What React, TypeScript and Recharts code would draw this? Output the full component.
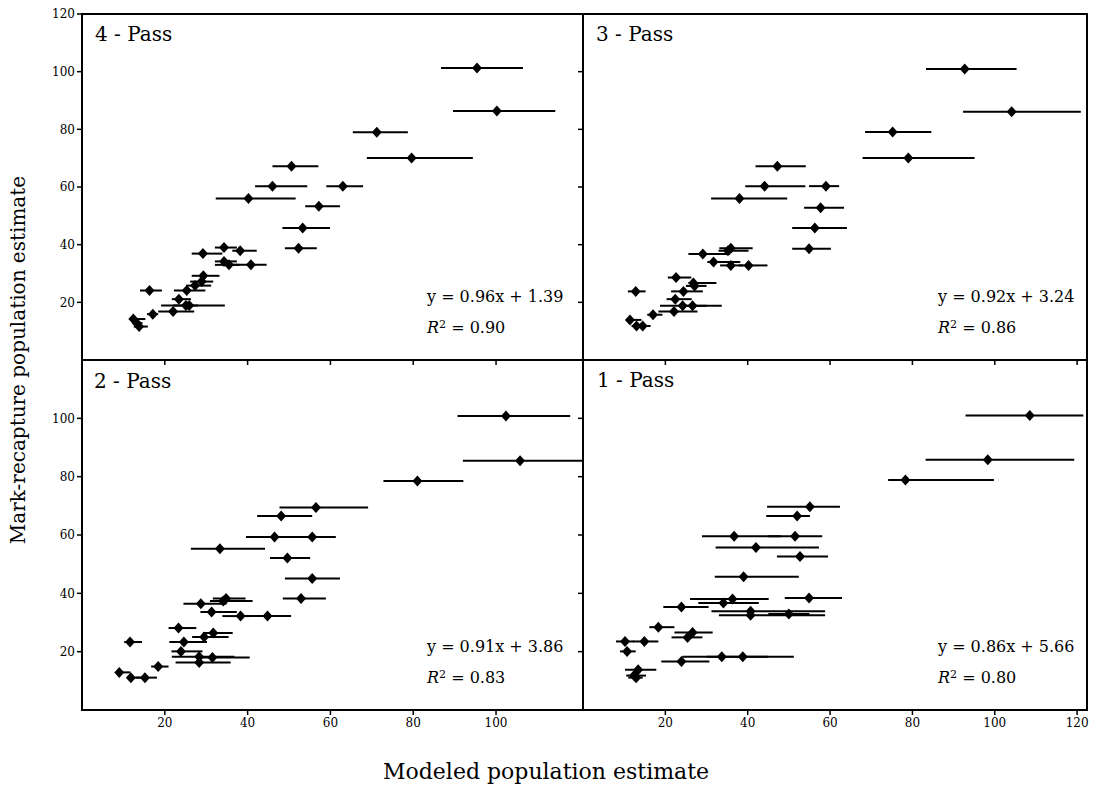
import { ScatterChart, Scatter, XAxis, YAxis, ErrorBar, ReferenceArea } from "recharts";

const FONT = "'DejaVu Serif', serif";

// 4 - Pass
const pass4X = [95.4, 100.2, 71.2, 79.6, 50.6, 46.0, 63.0, 40.2, 57.2, 53.3, 52.3, 34.3, 38.2, 29.2, 34.3, 35.5, 40.8, 29.3, 28.9, 27.3, 25.3, 16.3, 23.4, 25.1, 25.9, 22.0, 17.1, 12.4, 13.2, 13.8];
const pass4Y = [101.3, 86.4, 79.0, 70.1, 67.2, 60.3, 60.3, 56.0, 53.3, 45.8, 38.8, 39.0, 37.9, 36.9, 34.2, 33.0, 33.0, 29.2, 27.2, 25.8, 24.1, 24.1, 21.1, 18.9, 18.9, 16.8, 15.9, 14.2, 12.8, 11.6];
const pass4Lo = [86.7, 89.6, 65.4, 68.8, 46.0, 41.8, 59.0, 32.3, 53.9, 48.4, 49.0, 32.1, 36.3, 26.5, 32.1, 32.1, 36.5, 26.5, 26.1, 25.1, 22.2, 14.0, 21.7, 19.1, 22.0, 18.4, 15.7, 12.0, 12.2, 12.5];
const pass4Hi = [106.5, 114.3, 78.7, 94.4, 57.1, 54.4, 67.9, 51.6, 62.3, 59.9, 56.7, 37.4, 42.2, 33.9, 37.4, 38.0, 44.6, 33.2, 31.7, 31.2, 29.8, 19.3, 26.3, 34.5, 28.0, 27.1, 18.4, 15.3, 14.6, 15.9];

// 3 - Pass
const pass3X = [92.7, 104.1, 75.2, 79.0, 47.2, 44.1, 59.0, 38.0, 57.7, 56.3, 54.9, 35.9, 35.2, 29.1, 31.7, 35.9, 40.2, 22.6, 26.8, 27.1, 24.4, 12.8, 22.4, 24.2, 26.6, 22.1, 17.0, 11.4, 13.0, 14.5];
const pass3Y = [100.9, 86.1, 79.1, 70.1, 67.2, 60.3, 60.3, 56.0, 52.8, 45.8, 38.6, 38.8, 37.9, 36.8, 34.0, 32.8, 32.8, 28.6, 26.7, 25.7, 23.8, 23.8, 21.1, 18.8, 18.8, 16.8, 15.7, 13.9, 11.8, 11.8];
const pass3Lo = [83.3, 92.3, 68.5, 67.9, 41.9, 39.4, 54.9, 31.1, 53.7, 50.8, 50.8, 33.1, 32.9, 25.6, 30.2, 33.3, 37.8, 20.6, 25.6, 25.0, 21.4, 10.9, 20.3, 18.7, 24.0, 18.3, 15.6, 10.4, 11.8, 13.0];
const pass3Hi = [105.3, 120.9, 84.6, 95.1, 54.1, 54.0, 62.2, 49.6, 63.4, 64.1, 60.2, 41.2, 40.2, 35.7, 38.2, 38.9, 44.8, 26.3, 32.4, 30.0, 29.1, 15.2, 26.4, 33.7, 30.0, 27.8, 19.3, 14.2, 14.5, 16.4];

// 2 - Pass
const pass2X = [102.4, 105.8, 81.0, 56.5, 48.1, 46.5, 55.6, 33.3, 49.6, 55.6, 52.9, 34.8, 34.1, 28.7, 31.3, 38.3, 44.8, 23.3, 31.7, 29.5, 24.6, 11.6, 23.9, 28.3, 31.5, 28.3, 18.4, 9.0, 11.8, 15.2];
const pass2Y = [100.8, 85.5, 78.5, 69.4, 66.5, 59.3, 59.3, 55.3, 52.1, 45.1, 38.2, 38.2, 37.4, 36.4, 33.6, 32.2, 32.2, 28.1, 26.4, 25.0, 23.3, 23.3, 20.1, 18.3, 18.0, 16.3, 14.9, 12.9, 11.1, 11.1];
const pass2Lo = [90.7, 92.0, 72.8, 47.7, 42.3, 39.6, 50.0, 26.3, 45.4, 49.0, 48.5, 31.6, 30.9, 24.5, 28.6, 33.9, 39.5, 20.9, 29.2, 26.6, 21.1, 10.2, 21.6, 21.7, 28.0, 22.6, 16.7, 8.3, 11.1, 13.0];
const pass2Hi = [117.9, 121.0, 92.1, 69.1, 55.6, 55.0, 61.3, 44.2, 55.1, 62.3, 58.9, 39.5, 41.2, 34.9, 37.4, 40.5, 50.5, 27.6, 36.4, 35.4, 30.2, 14.5, 29.1, 36.8, 40.5, 35.9, 20.9, 11.7, 15.5, 18.1];

// 1 - Pass
const pass1X = [108.5, 98.3, 78.3, 55.1, 52.0, 36.7, 51.5, 42.0, 52.7, 39.0, 54.9, 36.3, 34.1, 23.9, 40.7, 40.7, 50.0, 18.3, 26.6, 25.4, 10.2, 14.9, 10.7, 33.7, 38.8, 23.9, 13.4, 12.4, 12.9];
const pass1Y = [101.0, 85.8, 78.9, 69.7, 66.5, 59.6, 59.6, 55.7, 52.6, 45.7, 38.4, 38.1, 36.7, 35.3, 33.9, 32.5, 32.9, 28.4, 26.6, 24.9, 23.5, 23.5, 20.1, 18.3, 18.3, 16.6, 13.8, 11.8, 11.1];
const pass1Lo = [92.9, 83.2, 74.1, 44.7, 44.5, 28.9, 45.0, 32.2, 47.1, 32.0, 49.0, 26.0, 28.0, 19.5, 31.2, 33.0, 45.0, 16.1, 22.2, 21.5, 8.0, 12.2, 9.0, 24.1, 30.0, 19.0, 10.2, 10.5, 11.0];
const pass1Hi = [121.5, 119.3, 99.8, 62.4, 55.1, 48.0, 58.1, 57.3, 59.5, 52.4, 62.9, 45.1, 42.7, 30.5, 58.8, 58.8, 55.0, 22.2, 31.5, 29.0, 12.4, 18.3, 12.8, 51.2, 45.0, 30.7, 17.8, 15.3, 14.5];

const xTicksLeft = [20, 40, 60, 80, 100];
const xTicksRight = [20, 40, 60, 80, 100, 120];
const yTicksTop = [20, 40, 60, 80, 100, 120];
const yTicksBottom = [20, 40, 60, 80, 100];

// room around each plot for the axes
const AXIS_W = 40;
const AXIS_H = 30;
const PAD = 6;

const Diamond = (props: any) => {
  const { cx, cy } = props;
  if (cx == null || cy == null) return <g />;
  return (
    <path
      d={`M${cx},${cy - 5.5}L${cx + 5},${cy}L${cx},${cy + 5.5}L${cx - 5},${cy}Z`}
      fill="#000"
    />
  );
};

const NoLabel = () => <g />;

interface PanelProps {
  xs: number[];
  ys: number[];
  los: number[];
  his: number[];
  xMax: number;
  xTicks: number[];
  yTicks: number[];
  showX: boolean;
  showY: boolean;
  left: number;
  top: number;
  width: number;
  height: number;
}

function Panel({ xs, ys, los, his, xMax, xTicks, yTicks, showX, showY, left, top, width, height }: PanelProps) {
  const data = xs.map((x, i) => ({ x, y: ys[i], err: [x - los[i], his[i] - x] }));
  const tickStyle = { fontFamily: FONT, fontSize: 12, fill: "#000" };
  return (
    <div style={{ position: "absolute", left: left - AXIS_W, top: top - PAD }}>
      <ScatterChart
        width={width + AXIS_W + PAD}
        height={height + AXIS_H + PAD}
        margin={{ top: PAD, right: PAD, bottom: 0, left: 0 }}
      >
        <XAxis
          type="number"
          dataKey="x"
          domain={[0, xMax]}
          ticks={xTicks}
          height={AXIS_H}
          axisLine={false}
          tickLine={{ stroke: "#000", strokeWidth: 1.5 }}
          tickSize={5}
          tickMargin={3}
          tick={showX ? tickStyle : NoLabel}
          interval={0}
          allowDataOverflow
        />
        <YAxis
          type="number"
          dataKey="y"
          domain={[0, 120]}
          ticks={yTicks}
          width={AXIS_W}
          axisLine={false}
          tickLine={{ stroke: "#000", strokeWidth: 1.5 }}
          tickSize={5}
          tickMargin={2}
          tick={showY ? tickStyle : NoLabel}
          interval={0}
          allowDataOverflow
        />
        <ReferenceArea x1={0} x2={xMax} y1={0} y2={120} fill="none" stroke="#000" strokeWidth={2} />
        <Scatter data={data} shape={Diamond} isAnimationActive={false}>
          <ErrorBar dataKey="err" direction="x" width={0} stroke="#000" strokeWidth={2} />
        </Scatter>
      </ScatterChart>
    </div>
  );
}

const textBase: React.CSSProperties = {
  position: "absolute",
  fontFamily: FONT,
  color: "#000",
  whiteSpace: "nowrap",
};

function Title({ text, left, top }: { text: string; left: number; top: number }) {
  return <div style={{ ...textBase, left, top, fontSize: 20, lineHeight: "20px" }}>{text}</div>;
}

function Fit({ eq, r2, left, top }: { eq: string; r2: string; left: number; top: number }) {
  return (
    <>
      <div style={{ ...textBase, left, top, fontSize: 16, lineHeight: "16px" }}>{eq}</div>
      <div style={{ ...textBase, left, top: top + 31, fontSize: 16, lineHeight: "16px" }}>
        <i>R</i>
        <sup style={{ fontSize: 11, verticalAlign: "5px", lineHeight: 0 }}>2</sup> = {r2}
      </div>
    </>
  );
}

export default function App() {
  return (
    <div style={{ position: "absolute", left: 0, top: 0, width: 1100, height: 787, background: "#fff" }}>
      <Panel xs={pass4X} ys={pass4Y} los={pass4Lo} his={pass4Hi} xMax={121} xTicks={xTicksLeft} yTicks={yTicksTop}
        showX={false} showY left={82} top={14} width={501} height={346} />
      <Panel xs={pass3X} ys={pass3Y} los={pass3Lo} his={pass3Hi} xMax={122.4} xTicks={xTicksRight} yTicks={yTicksTop}
        showX={false} showY={false} left={583} top={14} width={504} height={346} />
      <Panel xs={pass2X} ys={pass2Y} los={pass2Lo} his={pass2Hi} xMax={121} xTicks={xTicksLeft} yTicks={yTicksBottom}
        showX showY left={82} top={360} width={501} height={350} />
      <Panel xs={pass1X} ys={pass1Y} los={pass1Lo} his={pass1Hi} xMax={122.4} xTicks={xTicksRight} yTicks={yTicksBottom}
        showX showY={false} left={583} top={360} width={504} height={350} />

      <Title text="4 - Pass" left={95} top={24} />
      <Title text="3 - Pass" left={596} top={24} />
      <Title text="2 - Pass" left={94} top={371} />
      <Title text="1 - Pass" left={597} top={370} />

      <Fit eq="y = 0.96x + 1.39" r2="0.90" left={427} top={289} />
      <Fit eq="y = 0.92x + 3.24" r2="0.86" left={938} top={289} />
      <Fit eq="y = 0.91x + 3.86" r2="0.83" left={427} top={639} />
      <Fit eq="y = 0.86x + 5.66" r2="0.80" left={938} top={639} />

      <div style={{ ...textBase, left: 546, top: 761, fontSize: 22, lineHeight: "22px", transform: "translateX(-50%)" }}>
        Modeled population estimate
      </div>
      <div
        style={{
          ...textBase,
          left: 18,
          top: 360,
          fontSize: 20,
          lineHeight: "20px",
          transform: "translate(-50%, -50%) rotate(-90deg)",
        }}
      >
        Mark-recapture population estimate
      </div>
    </div>
  );
}
